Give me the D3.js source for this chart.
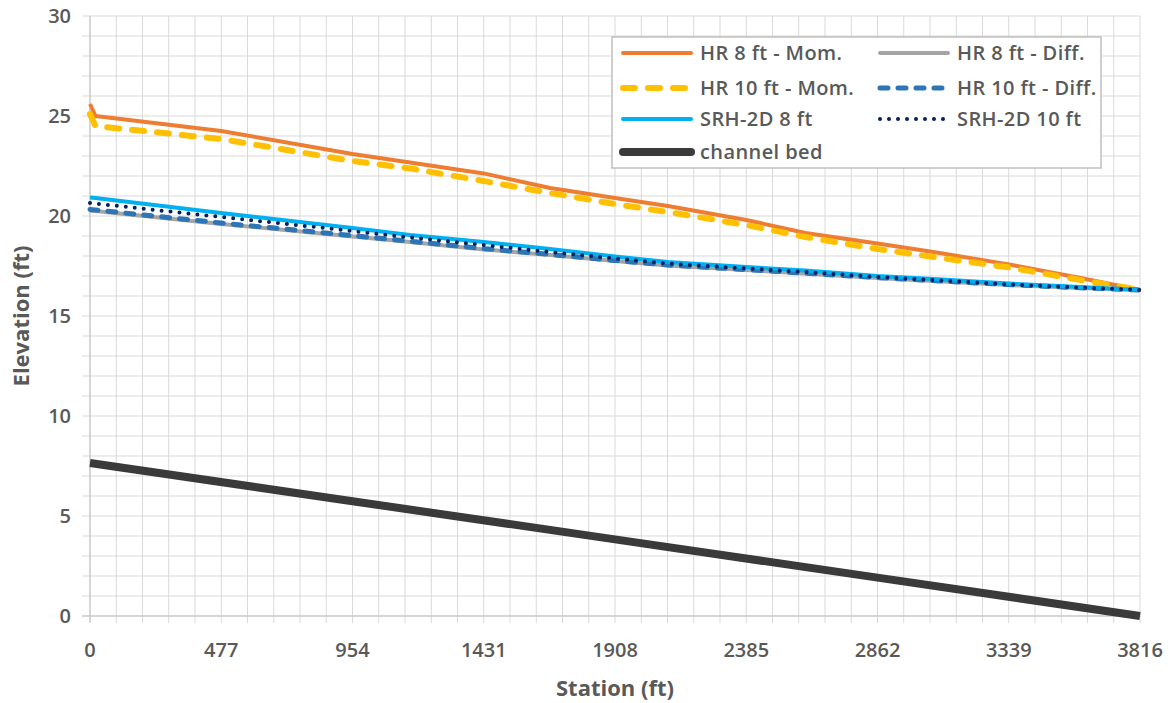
<!DOCTYPE html>
<meta charset="utf-8">
<style>
    body { margin: 0; background: #fff; }
    text { font-family: "Open Sans", "DejaVu Sans", sans-serif; fill: #595959; }
    .grid line { stroke: #d9d9d9; stroke-width: 1; }
</style>
<body>
<svg width="1173" height="703"></svg>
<script src="https://d3js.org/d3.v7.min.js"></script>
<script>
    // station (ft) shared by the water-surface series
    const stations = [0, 20, 477, 954, 1163, 1431, 1672, 1908, 2100, 2385, 2600, 2862, 3065, 3339, 3600, 3816];

    const hr8Mom  = [25.6, 25.0, 24.25, 23.1, 22.67, 22.13, 21.4, 20.9, 20.5, 19.8, 19.15, 18.63, 18.2, 17.58, 16.9, 16.3];
    const hr8Diff = [20.28, 20.25, 19.6, 18.98, 18.7, 18.33, 18.05, 17.75, 17.52, 17.3, 17.12, 16.9, 16.75, 16.55, 16.4, 16.3];
    const hr10Mom = [25.1, 24.5, 23.85, 22.75, 22.38, 21.75, 21.15, 20.6, 20.2, 19.55, 18.95, 18.35, 17.95, 17.43, 16.8, 16.3];
    const hr10Diff = [20.33, 20.3, 19.65, 19.02, 18.74, 18.37, 18.08, 17.78, 17.55, 17.32, 17.14, 16.92, 16.77, 16.57, 16.41, 16.3];
    const srh8    = [20.93, 20.9, 20.15, 19.4, 19.05, 18.7, 18.35, 17.98, 17.7, 17.45, 17.28, 17.0, 16.85, 16.62, 16.45, 16.3];
    const srh10   = [20.65, 20.62, 19.95, 19.25, 18.93, 18.55, 18.2, 17.88, 17.62, 17.38, 17.2, 16.95, 16.8, 16.58, 16.42, 16.3];

    const bedStations = [0, 954, 1908, 2862, 3816];
    const bedElev = [7.65, 5.74, 3.83, 1.92, 0];

    const xTicks = [0, 477, 954, 1431, 1908, 2385, 2862, 3339, 3816];
    const yTicks = [0, 5, 10, 15, 20, 25, 30];

    const series = [
        {name: "HR 8 ft - Mom.",  x: stations, y: hr8Mom,  color: "#ED7D31", width: 4, dash: null},
        {name: "HR 8 ft - Diff.", x: stations, y: hr8Diff, color: "#A5A5A5", width: 4, dash: null},
        {name: "HR 10 ft - Mom.", x: stations, y: hr10Mom, color: "#FFC000", width: 6, dash: "12,13"},
        {name: "HR 10 ft - Diff.", x: stations, y: hr10Diff, color: "#2E75B6", width: 5, dash: "8,10"},
        {name: "SRH-2D 8 ft",     x: stations, y: srh8,    color: "#00B0F0", width: 4, dash: null},
        {name: "SRH-2D 10 ft",    x: stations, y: srh10,   color: "#002060", width: 4, dash: "0,9"},
        {name: "channel bed",     x: bedStations, y: bedElev, color: "#3a3a3a", width: 8, dash: null}
    ];

    let svg = d3.select("svg");

    let x = d3.scaleLinear().domain([0, 3816]).range([90, 1140]);
    let y = d3.scaleLinear().domain([0, 30]).range([616, 16]);

    //grid: minor every 95.4 ft and every 1 ft
    let grid = svg.append("g").attr("class", "grid");
    let xMinor = d3.range(0, 41).map(i => i * 3816 / 40);
    let yMinor = d3.range(0, 31);

    grid.selectAll(".vx").data(xMinor).enter().append("line")
        .attr("x1", d => x(d)).attr("x2", d => x(d))
        .attr("y1", y(30)).attr("y2", y(0) + 7);
    grid.selectAll(".hy").data(yMinor).enter().append("line")
        .attr("x1", x(0) - 8).attr("x2", x(3816))
        .attr("y1", d => y(d)).attr("y2", d => y(d));

    //axis lines
    svg.append("line").attr("x1", x(0)).attr("x2", x(0)).attr("y1", y(30)).attr("y2", y(0) + 7)
        .attr("stroke", "#bfbfbf");
    svg.append("line").attr("x1", x(0) - 8).attr("x2", x(3816)).attr("y1", y(0)).attr("y2", y(0))
        .attr("stroke", "#bfbfbf");

    //tick labels
    svg.append("g").selectAll("text").data(xTicks).enter().append("text")
        .attr("x", d => x(d)).attr("y", 657)
        .attr("text-anchor", "middle")
        .attr("font-size", 20).attr("font-weight", 600)
        .text(d => d);
    svg.append("g").selectAll("text").data(yTicks).enter().append("text")
        .attr("x", 71).attr("y", d => y(d) + 7)
        .attr("text-anchor", "end")
        .attr("font-size", 20).attr("font-weight", 600)
        .text(d => d);

    //axis titles
    svg.append("text").attr("x", 615).attr("y", 696)
        .attr("text-anchor", "middle").attr("font-size", 22).attr("font-weight", 700)
        .text("Station (ft)");
    svg.append("text").attr("transform", "translate(29,316) rotate(-90)")
        .attr("text-anchor", "middle").attr("font-size", 22).attr("font-weight", 700)
        .text("Elevation (ft)");

    //lines
    let line = d3.line().x(d => x(d[0])).y(d => y(d[1]));
    svg.append("g").selectAll("path").data(series).enter().append("path")
        .attr("d", s => line(s.x.map((v, i) => [v, s.y[i]])))
        .attr("fill", "none")
        .attr("stroke", s => s.color)
        .attr("stroke-width", s => s.width)
        .attr("stroke-dasharray", s => s.dash)
        .attr("stroke-linecap", s => s.dash ? "round" : "butt")
        .attr("stroke-linejoin", "round");

    //legend
    let legend = svg.append("g");
    legend.append("rect").attr("x", 612).attr("y", 37).attr("width", 489).attr("height", 131)
        .attr("fill", "#fff").attr("stroke", "#bfbfbf").attr("stroke-width", 1.5);

    const legendOrder = [0, 1, 2, 3, 4, 5, 6];
    const rowY = [53, 88, 119, 152];
    const colX = [623, 880];
    let item = legend.selectAll(".item").data(legendOrder).enter().append("g")
        .attr("transform", (d, i) => `translate(${colX[i % 2]},${rowY[Math.floor(i / 2)]})`);
    item.append("line")
        .attr("x1", 0).attr("x2", 68).attr("y1", 0).attr("y2", 0)
        .attr("stroke", d => series[d].color)
        .attr("stroke-width", d => series[d].width)
        .attr("stroke-dasharray", d => series[d].dash)
        .attr("stroke-linecap", "round");
    item.append("text")
        .attr("x", 77).attr("y", 7)
        .attr("font-size", 20).attr("font-weight", 600)
        .attr("letter-spacing", 0.4)
        .text(d => series[d].name);
</script>
</body>
